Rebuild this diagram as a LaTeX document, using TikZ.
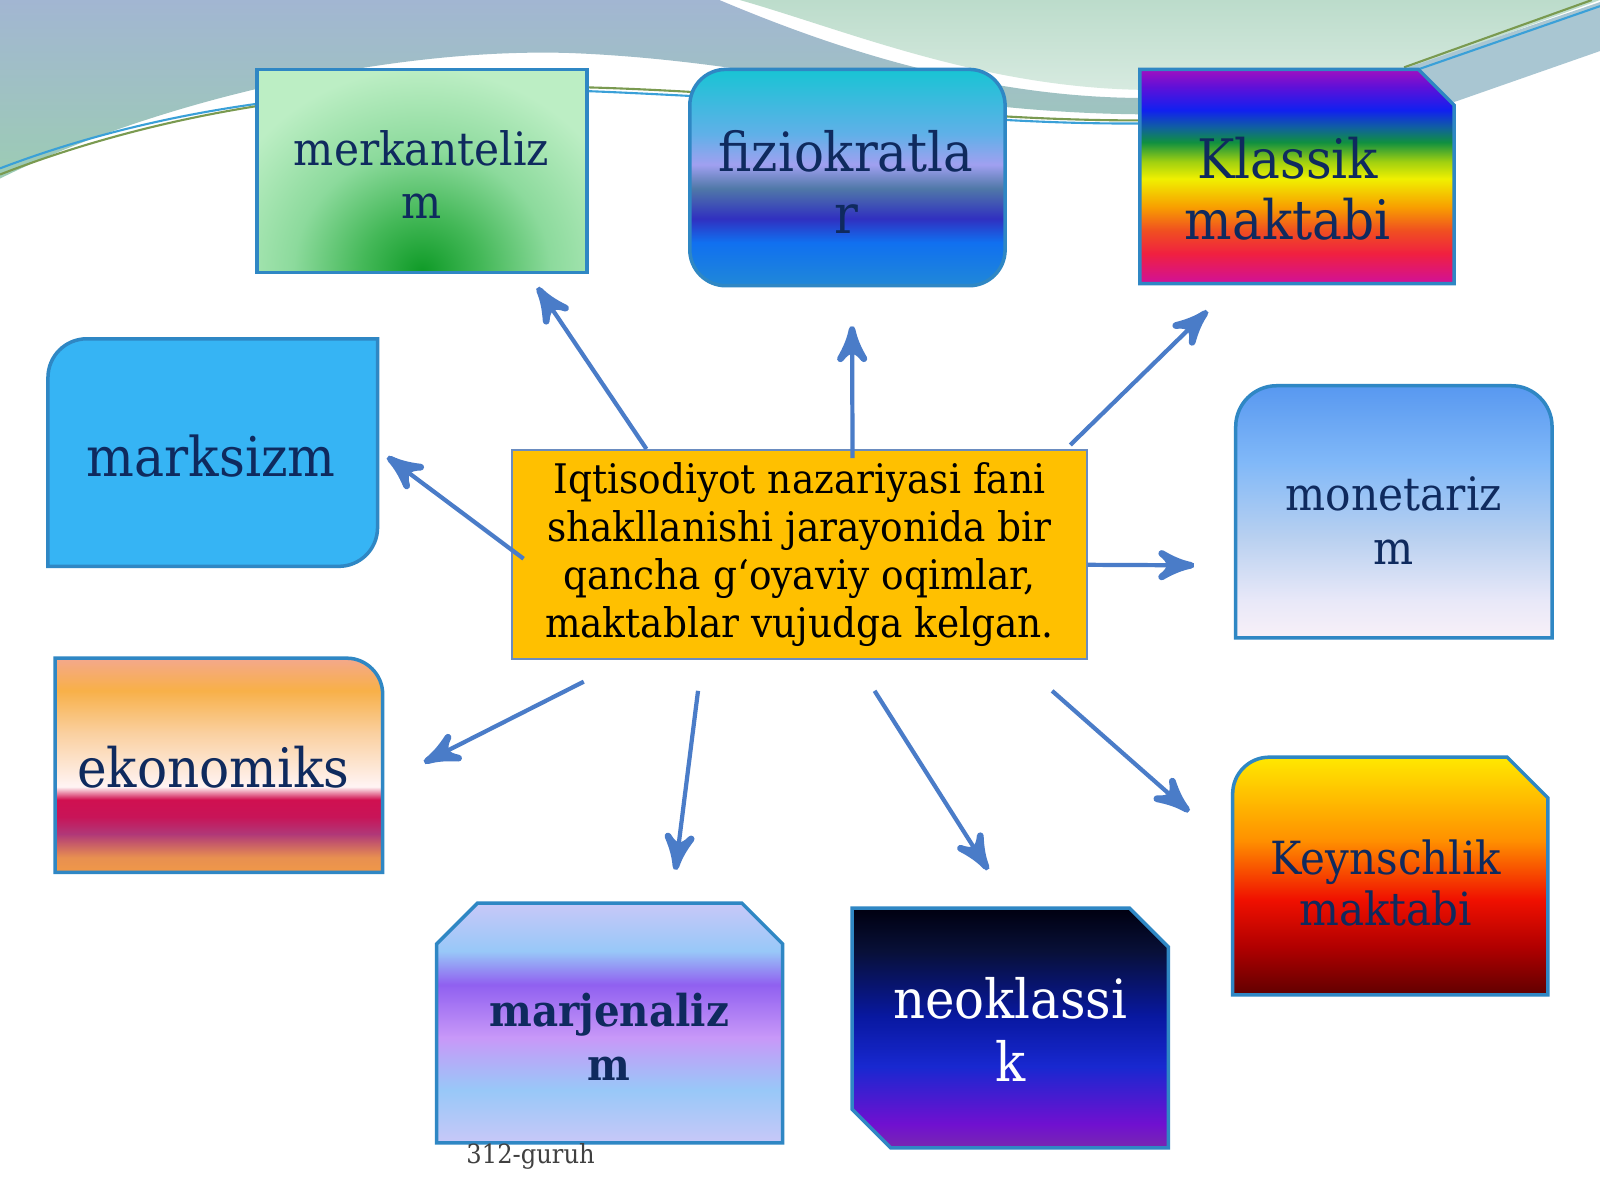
\documentclass[tikz,border=0pt]{standalone}
\usepackage{fontspec}
\setmainfont{DejaVu Serif}[FakeStretch=0.92]
\usetikzlibrary{arrows}
\usetikzlibrary{decorations.markings}
\usetikzlibrary{calc}
% background
\definecolor{bgblue}{HTML}{A2B6D2}
\definecolor{bggreen}{HTML}{9CCCB4}
\definecolor{bglight}{HTML}{BCDCCB}
\definecolor{bgstripe}{HTML}{A9C6D2}
\definecolor{lnblue}{HTML}{3AA0D8}
\definecolor{lngreen}{HTML}{7A9A50}
% boxes, text, arrows
\definecolor{boxline}{HTML}{2F87C4}
\definecolor{labelink}{HTML}{0F2A5E}
\definecolor{arrowblue}{HTML}{4A7CC8}
\definecolor{ctrfill}{HTML}{FFC000}
\definecolor{ctrline}{HTML}{6A8CC0}
\definecolor{marxfill}{HTML}{36B4F4}
\definecolor{merklight}{HTML}{BCEEC4}
\definecolor{merkmid}{HTML}{8CDA9C}
\definecolor{merkdeep}{HTML}{44B858}
\definecolor{merkdark}{HTML}{0E9A26}
\definecolor{fa}{HTML}{18C4D4}
\definecolor{fb}{HTML}{60B0E8}
\definecolor{fc}{HTML}{A0A0F0}
\definecolor{fd}{HTML}{5078A8}
\definecolor{fe}{HTML}{3030C0}
\definecolor{ff}{HTML}{1070F0}
\definecolor{fg}{HTML}{2088D8}
\definecolor{ka}{HTML}{A010C0}
\definecolor{kb}{HTML}{6010D8}
\definecolor{kc}{HTML}{1020F0}
\definecolor{kd}{HTML}{1060A0}
\definecolor{ke}{HTML}{109040}
\definecolor{kf}{HTML}{A0D010}
\definecolor{kg}{HTML}{F0F000}
\definecolor{kh}{HTML}{F8A000}
\definecolor{ki}{HTML}{F05020}
\definecolor{kj}{HTML}{F02040}
\definecolor{kk}{HTML}{D0109A}
\definecolor{ma}{HTML}{5898F0}
\definecolor{mb}{HTML}{80B8F8}
\definecolor{mc}{HTML}{B8D0F0}
\definecolor{md}{HTML}{E8E8F8}
\definecolor{me}{HTML}{F8F0F8}
\definecolor{ea}{HTML}{F4A88C}
\definecolor{eb}{HTML}{F8B048}
\definecolor{ec}{HTML}{FAD0A0}
\definecolor{ed}{HTML}{FFF4F4}
\definecolor{ee}{HTML}{D01050}
\definecolor{ef}{HTML}{C81458}
\definecolor{eg}{HTML}{B03878}
\definecolor{eh}{HTML}{E89050}
\definecolor{ei}{HTML}{F09848}
\definecolor{ja}{HTML}{C8C8F8}
\definecolor{jb}{HTML}{98C8F8}
\definecolor{jc}{HTML}{9060F0}
\definecolor{jd}{HTML}{C898F8}
\definecolor{na}{HTML}{000010}
\definecolor{nb}{HTML}{081038}
\definecolor{nc}{HTML}{0818A0}
\definecolor{nd}{HTML}{1828D0}
\definecolor{ne}{HTML}{7010D0}
\definecolor{nf}{HTML}{7828B0}
\definecolor{ya}{HTML}{FFE800}
\definecolor{yb}{HTML}{FF9000}
\definecolor{yc}{HTML}{F01000}
\definecolor{yd}{HTML}{B00000}
\definecolor{ye}{HTML}{600000}
\pgfdeclareradialshading{merkglow}{\pgfpointorigin}{color(0bp)=(merkdark); color(7bp)=(merkdeep);
  color(15bp)=(merkmid); color(25bp)=(merklight); color(50bp)=(merklight)}
\pgfdeclareverticalshading{fizio}{100bp}{color(0bp)=(fg); color(25bp)=(fg); color(35bp)=(ff);
  color(40.5bp)=(fe); color(47.5bp)=(fd); color(53bp)=(fc); color(60bp)=(fb); color(75bp)=(fa); color(100bp)=(fa)}
\pgfdeclareverticalshading{klassik}{100bp}{color(0bp)=(kk); color(25bp)=(kk); color(32bp)=(kj);
  color(37.5bp)=(ki); color(43bp)=(kh); color(49.5bp)=(kg); color(53.5bp)=(kf); color(58bp)=(ke);
  color(61.5bp)=(kd); color(65.5bp)=(kc); color(71bp)=(kb); color(75bp)=(ka); color(100bp)=(ka)}
\pgfdeclareverticalshading{monet}{100bp}{color(0bp)=(me); color(25bp)=(me); color(32.5bp)=(md);
  color(45bp)=(mc); color(60bp)=(mb); color(75bp)=(ma); color(100bp)=(ma)}
\pgfdeclareverticalshading{ekon}{100bp}{color(0bp)=(ei); color(25bp)=(ei); color(28.5bp)=(eh);
  color(34bp)=(eg); color(38bp)=(ef); color(42bp)=(ee); color(45bp)=(ed); color(57.5bp)=(ec);
  color(67.5bp)=(eb); color(75bp)=(ea); color(100bp)=(ea)}
\pgfdeclareverticalshading{marj}{100bp}{color(0bp)=(ja); color(25bp)=(ja); color(36bp)=(jb);
  color(47bp)=(jd); color(58bp)=(jc); color(65bp)=(jb); color(75bp)=(ja); color(100bp)=(ja)}
\pgfdeclareverticalshading{neo}{100bp}{color(0bp)=(nf); color(25bp)=(nf); color(30bp)=(ne);
  color(42bp)=(nd); color(52.5bp)=(nc); color(66bp)=(nb); color(75bp)=(na); color(100bp)=(na)}
\pgfdeclareverticalshading{keyn}{100bp}{color(0bp)=(ye); color(25bp)=(ye); color(35bp)=(yd);
  color(45bp)=(yc); color(57.5bp)=(yb); color(75bp)=(ya); color(100bp)=(ya)}
\tikzset{arr/.style = {draw=arrowblue, line width=1.2pt,
                       decoration={markings,
                                   mark=at position 1 with {\arrow[scale=1.6]{stealth'}}},
                       postaction={decorate}}}
\tikzset{box/.style = {draw=boxline, line width=1pt}}
\tikzset{lbl/.style = {align=center, text=labelink, inner sep=0}}
\tikzset{ctrbox/.style = {draw=ctrline, fill=ctrfill, line width=0.6pt, align=center,
                          minimum width=5.745cm, minimum height=2.092cm, inner sep=0,
                          font=\fontsize{11.6}{13.6}\selectfont}}

\begin{document}
\begin{tikzpicture}[x=0.010204cm, y=-0.010204cm]
    \useasboundingbox (0,0) rectangle (1568,1176);
    \fill [white] (0,0) rectangle (1568,1176);
    % wave at the top
    \shade [top color=bgblue, bottom color=bggreen] (0,0) -- (705,0)
      .. controls (800,40) and (950,95) .. (1117,96) -- (1117,112)
      .. controls (900,110) and (760,60) .. (560,52)
      .. controls (380,46) and (150,100) .. (0,175) -- cycle;
    \shade [top color=bglight, bottom color=bglight!60!white] (725,0)
      .. controls (830,30) and (960,85) .. (1117,88) -- (1380,68) -- (1568,0) -- cycle;
    \fill [bgstripe] (1380,66) -- (1568,2) -- (1568,50) -- (1425,100) -- cycle;
    \draw [lnblue, line width=0.6pt] (0,165) .. controls (250,70) and (500,85) .. (676,94)
      .. controls (800,100) and (950,122) .. (1117,121);
    \draw [lngreen, line width=0.6pt] (0,171) .. controls (250,74) and (500,80) .. (676,90)
      .. controls (800,97) and (950,118) .. (1117,118);
    \draw [lngreen, line width=0.6pt] (1376,66) -- (1560,0);
    \draw [lnblue, line width=0.6pt] (1384,70) -- (1568,6);

    % boxes
    \path [box, fill=merklight, path picture={\shade [shading=merkglow]
      (path picture bounding box.south) ellipse (210 and 200);}] (252,68) rectangle (575,267);
    \path [box, shading=fizio, rounded corners=0.36cm] (676,68) rectangle (985,280);
    \path [box, shading=klassik] (1117,68) -- (1390,68) -- (1425,103) -- (1425,278) -- (1117,278) -- cycle;
    \path [box, fill=marxfill] (47,370) .. controls (47,349) and (64,332) .. (85,332) -- (370,332)
      -- (370,517) .. controls (370,538) and (353,555) .. (332,555) -- (47,555) -- cycle;
    \path [box, shading=monet] (1211,625) -- (1211,418) .. controls (1211,396) and (1229,378) .. (1251,378)
      -- (1481,378) .. controls (1503,378) and (1521,396) .. (1521,418) -- (1521,625) -- cycle;
    \path [box, shading=ekon] (54,645) -- (340,645) .. controls (359,645) and (375,661) .. (375,680)
      -- (375,855) -- (54,855) -- cycle;
    \path [box, shading=marj] (428,1120) -- (428,925) -- (468,885) -- (727,885) -- (767,925)
      -- (767,1120) -- cycle;
    \path [box, shading=neo] (835,890) -- (1107,890) -- (1145,928) -- (1145,1125) -- (873,1125)
      -- (835,1087) -- cycle;
    \path [box, shading=keyn] (1208,975) -- (1208,778) .. controls (1208,758) and (1224,742) .. (1244,742)
      -- (1477,742) -- (1517,782) -- (1517,975) -- cycle;

    % labels
    \node [lbl, font=\fontsize{13.1}{15.1}\selectfont] (merk) at (413,171) {merkanteliz\\m};
    \node [lbl, font=\fontsize{15.4}{17.7}\selectfont] (fizio) at (829,178) {fiziokratla\\r};
    \node [lbl, font=\fontsize{15.5}{17.4}\selectfont] (klas) at (1262,185) {Klassik\\maktabi};
    \node [lbl, font=\fontsize{15.6}{18}\selectfont] (marx) at (207,447) {marksizm};
    \node [lbl, font=\fontsize{13.1}{15.4}\selectfont] (monet) at (1366,510) {monetariz\\m};
    \node [lbl, font=\fontsize{15.5}{18}\selectfont] (ekon) at (209,752) {ekonomiks};
    \node [lbl, font=\bfseries\fontsize{12.5}{15.4}\selectfont] (marj) at (597,1016) {marjenaliz\\m};
    \node [lbl, text=white, font=\fontsize{15.4}{18}\selectfont] (neo) at (990,1009) {neoklassi\\k};
    \node [lbl, font=\fontsize{13}{14.5}\selectfont] (keyn) at (1358,865) {Keynschlik\\maktabi};
    \node [ctrbox] (ctr) at (783.5,543.5) {Iqtisodiyot nazariyasi fani\\
      shakllanishi jarayonida bir\\ qancha g‘oyaviy oqimlar,\\ maktablar vujudga kelgan.};
    \node [lbl, text=black!75, font=\fontsize{7.5}{9}\selectfont] (guruh) at (520,1133) {312-guruh};

    % arrows
    \coordinate (tmerk) at (527,282);
    \coordinate (tfizio) at (835,320);
    \coordinate (tklas) at (1183,305);
    \coordinate (tmarx) at (380,448);
    \coordinate (tmonet) at (1170,554);
    \coordinate (tekon) at (416,747);
    \coordinate (tmarj) at (662,852);
    \coordinate (tneo) at (968,852);
    \coordinate (tkeyn) at (1165,795);
    \draw [arr] ($(ctr.north)+(-150,0)$) -- (tmerk);
    \draw [arr] ($(ctr.north)+(52,9)$) -- (tfizio);
    \draw [arr] ($(ctr.north east)+(-17,-4)$) -- (tklas);
    \draw [arr] ($(ctr.west)+(12,4)$) -- (tmarx);
    \draw [arr] ($(ctr.east)+(0,10)$) -- (tmonet);
    \draw [arr] ($(ctr.south west)+(71,21)$) -- (tekon);
    \draw [arr] ($(ctr.south west)+(183,30)$) -- (tmarj);
    \draw [arr] ($(ctr.south west)+(356,30)$) -- (tneo);
    \draw [arr] ($(ctr.south west)+(530,30)$) -- (tkeyn);
  \end{tikzpicture}
\end{document}
